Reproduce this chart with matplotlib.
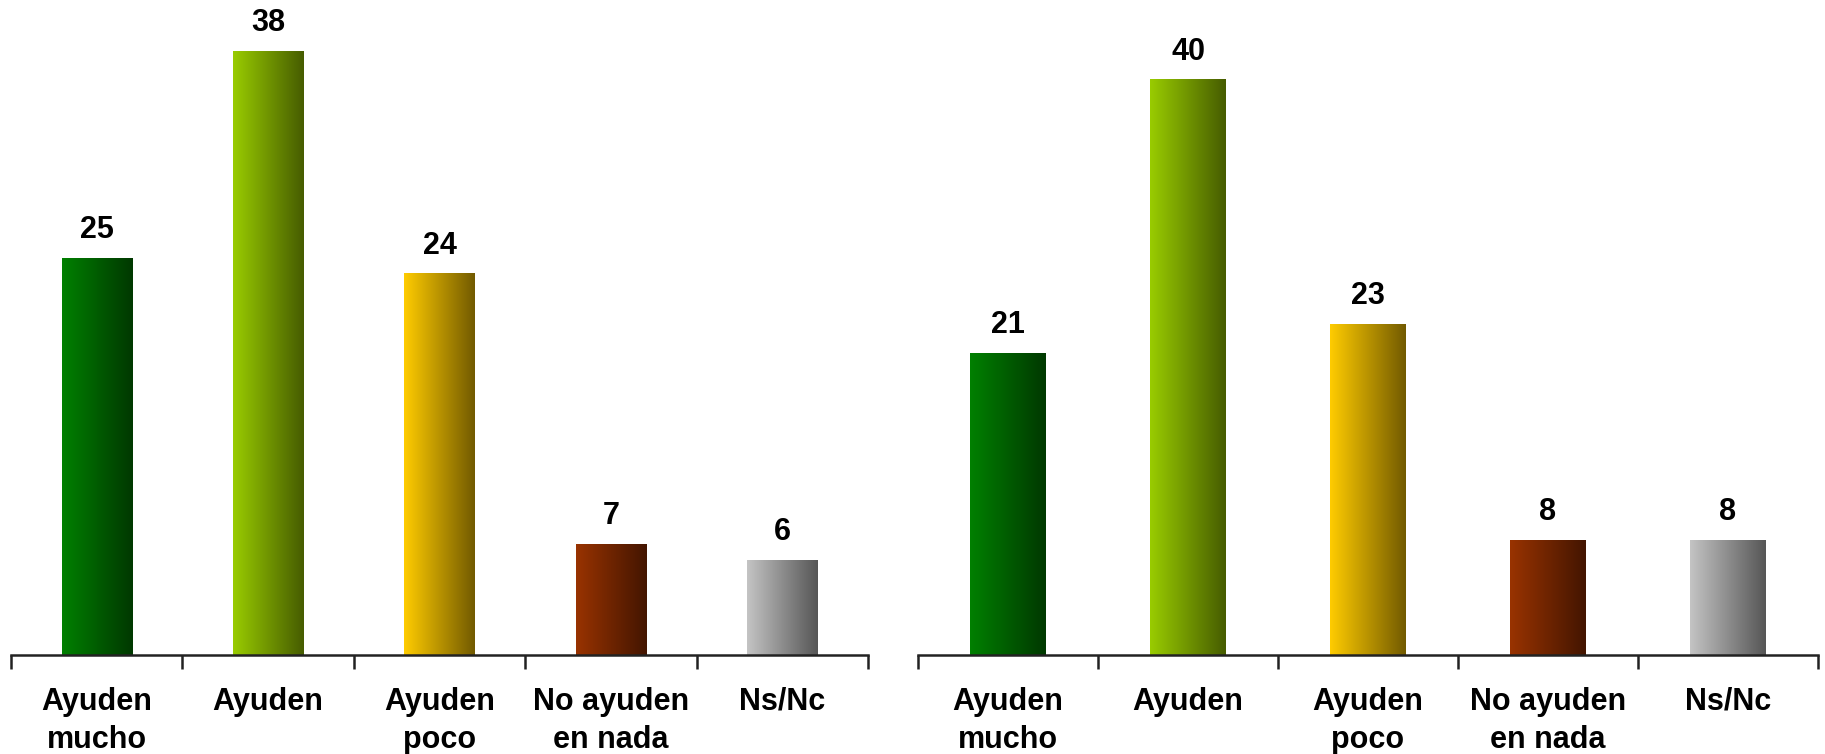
import numpy as np
import matplotlib.pyplot as plt
from matplotlib.colors import LinearSegmentedColormap

plt.rcParams['font.family'] = ['Liberation Sans', 'DejaVu Sans']

# datos
categorias = ["Ayuden\nmucho", "Ayuden", "Ayuden\npoco", "No ayuden\nen nada", "Ns/Nc"]
valores_izq = [25, 38, 24, 7, 6]
valores_der = [21, 40, 23, 8, 8]

# colores del degradado (claro -> oscuro)
degradados = [
    ("#008000", "#003800"),
    ("#99cc00", "#465c00"),
    ("#ffcc00", "#725a00"),
    ("#993300", "#431500"),
    ("#c4c4c4", "#565656"),
]


def dibujar_panel(ax, valores, ancho, ytop):
    x = np.arange(len(valores))
    barras = ax.bar(x, valores, width=ancho, color="none", edgecolor="none", zorder=2)
    grad = np.linspace(0, 1, 256).reshape(1, -1)
    for b, (c1, c2) in zip(barras, degradados):
        cmap = LinearSegmentedColormap.from_list("g", [c1, c2])
        x0, y0 = b.get_x(), b.get_y()
        im = ax.imshow(grad, cmap=cmap, aspect="auto", zorder=2,
                       extent=[x0, x0 + b.get_width(), y0, y0 + b.get_height()])
        im.set_clip_path(b)
    for xi, v in zip(x, valores):
        ax.annotate(str(v), (xi, v), xytext=(0, 9), textcoords="offset points",
                    ha="center", va="bottom", fontsize=22, fontweight="bold",
                    annotation_clip=False)
    ax.set_xlim(-0.5, len(valores) - 0.5)
    ax.set_ylim(0, ytop)
    for s in ["top", "left", "right"]:
        ax.spines[s].set_visible(False)
    ax.spines["bottom"].set_linewidth(1.8)
    ax.spines["bottom"].set_color("#222222")
    ax.set_yticks([])
    ax.set_xticks(np.arange(len(valores) + 1) - 0.5)
    ax.set_xticklabels([])
    ax.tick_params(axis="x", which="major", length=10, width=1.8, color="#222222", direction="out")
    ax.set_xticks(x, minor=True)
    ax.set_xticklabels(categorias, minor=True, fontsize=22, fontweight="bold", linespacing=1.35)
    ax.tick_params(axis="x", which="minor", length=0, pad=23)


fig = plt.figure(figsize=(18.25, 7.54), dpi=100)
ax1 = fig.add_axes([0.006, 0.1313, 0.4696, 0.8687])
ax2 = fig.add_axes([0.503, 0.1313, 0.4932, 0.8687])

dibujar_panel(ax1, valores_izq, 0.41, 41.2)
dibujar_panel(ax2, valores_der, 0.42, 45.5)

fig.savefig("out.png", dpi=100)
